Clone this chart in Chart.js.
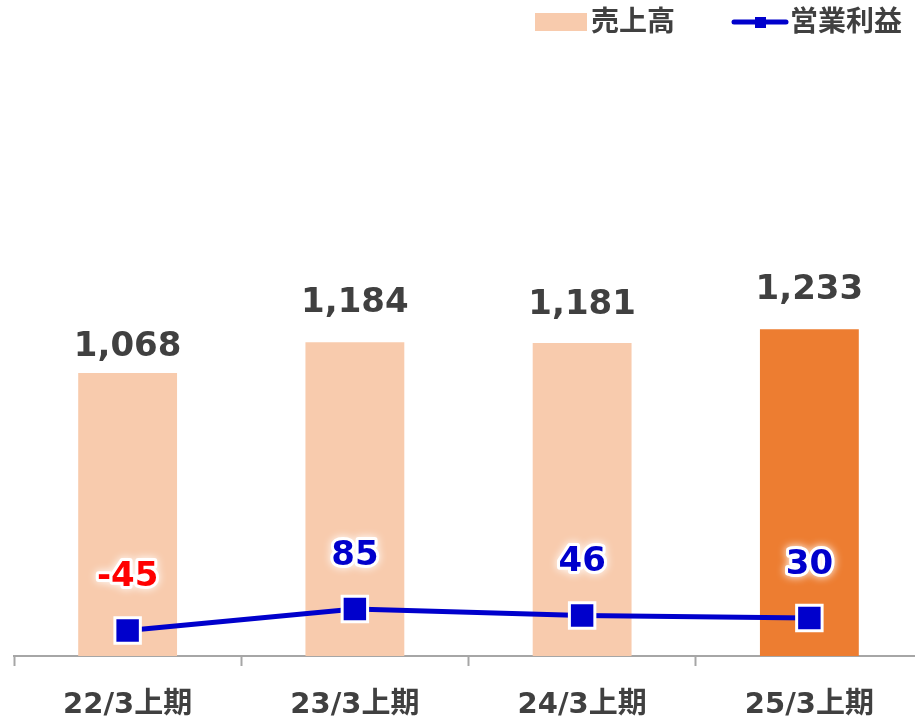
<!DOCTYPE html>
<html>
<head>
<meta charset="utf-8">
<script src="https://cdn.jsdelivr.net/npm/chart.js@4"></script>
<style>
  html, body { margin: 0; padding: 0; background: #fff; overflow: hidden; }
  #wrap { position: relative; width: 915px; height: 720px; overflow: hidden; }
  #chart { position: absolute; left: 0; top: 0; }
  .leg { position: absolute; font: bold 28px 'DejaVu Sans', 'Noto Sans CJK JP', sans-serif; color: #404040; line-height: 44px; top: 0; }
</style>
</head>
<body>
<div id="wrap">
  <canvas id="chart" width="925" height="720"></canvas>
  <div class="leg" style="left:535px;top:13px;width:52px;height:18px;background:#F8CBAD;"></div>
  <div class="leg" style="left:591px;">売上高</div>
  <canvas id="lineKey" class="leg" width="58" height="44" style="left:731px;"></canvas>
  <div class="leg" style="left:790px;">営業利益</div>
</div>
<script>
// 売上高 / 営業利益（百万円）
const periods = ['22/3上期', '23/3上期', '24/3上期', '25/3上期'];
const sales = [1068, 1184, 1181, 1233];
const operatingProfit = [-45, 85, 46, 30];

const GRAY = '#404040';
const BLUE = '#0000CC';
const FONT = "'DejaVu Sans', 'Noto Sans CJK JP', sans-serif";

// 凡例の線マーカー
const k = document.getElementById('lineKey').getContext('2d');
k.strokeStyle = BLUE;
k.lineWidth = 5;
k.lineCap = 'round';
k.beginPath(); k.moveTo(3, 22); k.lineTo(55, 22); k.stroke();
k.fillStyle = BLUE;
k.fillRect(24, 17, 11, 11);

const valueLabels = {
    id: 'valueLabels',
    afterDatasetsDraw(chart) {
        const ctx = chart.ctx;
        ctx.save();
        ctx.textAlign = 'center';
        ctx.textBaseline = 'middle';
        ctx.font = 'bold 34px ' + FONT;

        // 売上高ラベル
        const barOffsets = [26, 39, 38, 39];
        chart.getDatasetMeta(1).data.forEach((bar, i) => {
            ctx.fillStyle = GRAY;
            ctx.fillText(sales[i].toLocaleString('en-US'), bar.x, bar.y - barOffsets[i]);
        });

        // 営業利益ラベル（白い縁取り）
        chart.getDatasetMeta(0).data.forEach((pt, i) => {
            const v = operatingProfit[i];
            const y = pt.y - 53;
            ctx.strokeStyle = '#ffffff';
            ctx.lineWidth = 6;
            ctx.lineJoin = 'round';
            ctx.shadowColor = '#ffffff';
            ctx.shadowBlur = 8;
            ctx.strokeText(String(v), pt.x, y);
            ctx.shadowBlur = 0;
            ctx.fillStyle = v < 0 ? '#FF0000' : BLUE;
            ctx.fillText(String(v), pt.x, y);
        });
        ctx.restore();
    }
};

new Chart(document.getElementById('chart').getContext('2d'), {
    data: {
        labels: periods,
        datasets: [
            {
                type: 'line',
                label: '営業利益',
                data: operatingProfit,
                yAxisID: 'y2',
                borderColor: BLUE,
                backgroundColor: BLUE,
                borderWidth: 5,
                pointStyle: 'rect',
                pointRadius: 18,
                pointBorderColor: '#ffffff',
                pointBorderWidth: 3,
                pointBackgroundColor: BLUE,
                tension: 0,
                order: 0
            },
            {
                type: 'bar',
                label: '売上高',
                data: sales,
                yAxisID: 'y',
                backgroundColor: ['#F8CBAD', '#F8CBAD', '#F8CBAD', '#ED7D31'],
                categoryPercentage: 1,
                barPercentage: 0.435,
                order: 1
            }
        ]
    },
    options: {
        responsive: false,
        animation: false,
        layout: {
            autoPadding: false,
            padding: { left: 14, right: 2, top: 0, bottom: 0 }
        },
        plugins: {
            legend: { display: false },
            tooltip: { enabled: false }
        },
        scales: {
            x: {
                offset: true,
                afterFit: function(scale) {
                    scale.height = 64;
                },
                grid: {
                    drawOnChartArea: false,
                    tickLength: 10,
                    tickWidth: 2,
                    tickColor: '#A6A6A6'
                },
                border: { color: '#A6A6A6', width: 2 },
                ticks: {
                    color: GRAY,
                    padding: 22,
                    font: { family: FONT, size: 29, weight: 'bold' }
                }
            },
            y: {
                display: false,
                min: 0,
                max: 2475
            },
            y2: {
                display: false,
                min: -200,
                max: 3780
            }
        }
    },
    plugins: [valueLabels]
});
</script>
</body>
</html>
